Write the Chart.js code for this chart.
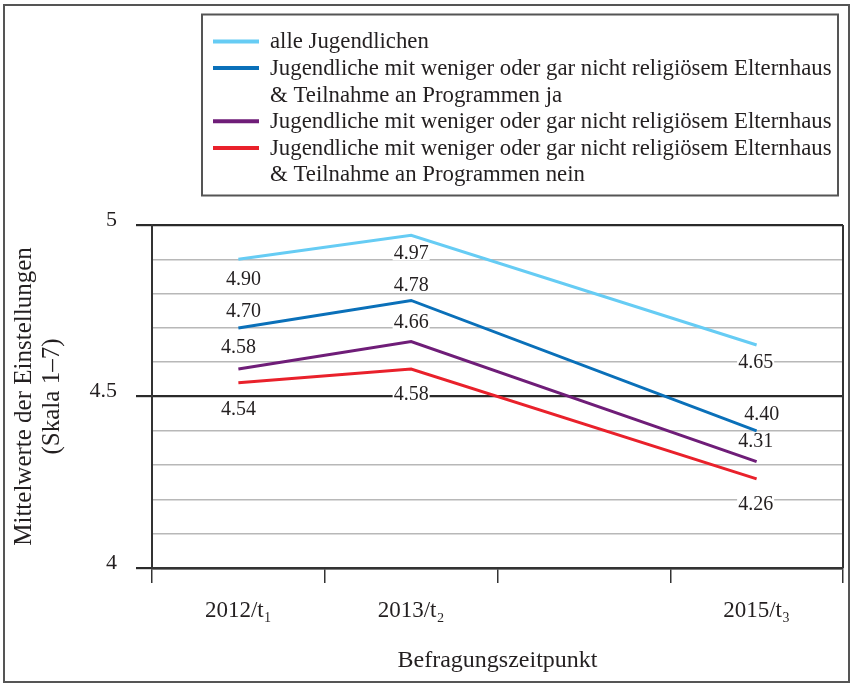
<!DOCTYPE html>
<html>
<head>
<meta charset="utf-8">
<script src="https://cdn.jsdelivr.net/npm/chart.js@4.4.0/dist/chart.umd.min.js"></script>
<style>
  html, body { margin: 0; padding: 0; background: #fff; }
  #wrap { position: relative; width: 852px; height: 684px; }
</style>
</head>
<body>
<div id="wrap"><canvas id="chart" width="852" height="684"></canvas></div>
<script>
// Befragungszeitpunkte (2014 bleibt leer, damit der Abstand stimmt)
const categories = ['2012/t\u2081', '2013/t\u2082', '', '2015/t\u2083'];

const alleJugendlichen   = [4.90, 4.97, null, 4.65];
const programmeJa        = [4.70, 4.78, null, 4.40];
const wenigerReligioes   = [4.58, 4.66, null, 4.31];
const programmeNein      = [4.54, 4.58, null, 4.26];

const seriesLabels = [
  ['alle Jugendlichen'],
  ['Jugendliche mit weniger oder gar nicht religiösem Elternhaus', '& Teilnahme an Programmen ja'],
  ['Jugendliche mit weniger oder gar nicht religiösem Elternhaus'],
  ['Jugendliche mit weniger oder gar nicht religiösem Elternhaus', '& Teilnahme an Programmen nein']
];

const yMajorTicks = [4, 4.5, 5];

const SERIF = "'Liberation Serif', 'DejaVu Serif', serif";
const TEXT = '#231f20';

function isMajor(v) {
  return yMajorTicks.some(m => Math.abs(m - v) < 1e-6);
}

// Werte-Beschriftung mit weissem Hintergrund
const valueLabels = {
  id: 'valueLabels',
  afterDatasetsDraw(chart) {
    const ctx = chart.ctx;
    ctx.save();
    ctx.font = '20px ' + SERIF;
    ctx.textAlign = 'center';
    ctx.textBaseline = 'middle';
    chart.data.datasets.forEach((ds, i) => {
      const meta = chart.getDatasetMeta(i);
      meta.data.forEach((pt, j) => {
        const v = ds.data[j];
        if (v == null) return;
        const txt = v.toFixed(2);
        const x = pt.x + ds.labelDx[j];
        const y = pt.y + ds.labelDy[j];
        const w = ctx.measureText(txt).width;
        ctx.fillStyle = '#fff';
        ctx.fillRect(x - w / 2 - 1, y - 8, w + 2, 16);
        ctx.fillStyle = TEXT;
        ctx.fillText(txt, x, y + 1);
      });
    });
    ctx.restore();
  }
};

// Rahmen rechts, Aussenrahmen und Legendenkasten
const frame = {
  id: 'frame',
  beforeDatasetsDraw(chart) {
    const {ctx, chartArea} = chart;
    ctx.save();
    ctx.strokeStyle = '#333';
    ctx.lineWidth = 2;
    ctx.beginPath();
    ctx.moveTo(chartArea.right, chartArea.top);
    ctx.lineTo(chartArea.right, chartArea.bottom);
    ctx.stroke();
    ctx.restore();
  },
  afterDraw(chart) {
    const ctx = chart.ctx;
    ctx.save();
    ctx.strokeStyle = '#555';
    ctx.lineWidth = 2;
    ctx.strokeRect(4, 5, 845, 677);

    // Legende
    ctx.strokeRect(202, 14.5, 636, 181);
    ctx.font = '22.8px ' + SERIF;
    ctx.textAlign = 'left';
    ctx.textBaseline = 'middle';
    let y = 41.5;
    chart.data.datasets.forEach((ds, i) => {
      ctx.strokeStyle = ds.borderColor;
      ctx.lineWidth = 4;
      ctx.beginPath();
      ctx.moveTo(213, y);
      ctx.lineTo(259, y);
      ctx.stroke();
      ctx.fillStyle = TEXT;
      seriesLabels[i].forEach(line => {
        ctx.fillText(line, 270, y + 1);
        y += 26.6;
      });
    });
    ctx.restore();
  }
};

function lineSet(label, data, color, dx, dy) {
  return {
    label: label,
    data: data,
    borderColor: color,
    backgroundColor: color,
    borderWidth: 3,
    pointRadius: 0,
    spanGaps: true,
    tension: 0,
    labelDx: dx,
    labelDy: dy
  };
}

new Chart(document.getElementById('chart'), {
  type: 'line',
  data: {
    labels: categories,
    datasets: [
      lineSet(seriesLabels[0].join(' '), alleJugendlichen, '#66ccf4', [5, 0, 0, -1], [19, 17, 0, 17]),
      lineSet(seriesLabels[1].join(' '), programmeJa, '#0a70b9', [5, 0, 0, 5], [-17, -16, 0, -17]),
      lineSet(seriesLabels[2].join(' '), wenigerReligioes, '#6f1d78', [0, 0, 0, -1], [-22, -20, 0, -21]),
      lineSet(seriesLabels[3].join(' '), programmeNein, '#e9212b', [0, 0, 0, -1], [26, 25, 0, 25])
    ]
  },
  options: {
    responsive: false,
    animation: false,
    devicePixelRatio: 1,
    layout: { padding: { top: 225, right: 9, bottom: 0, left: 0 } },
    plugins: {
      legend: { display: false },
      tooltip: { enabled: false },
      title: { display: false }
    },
    scales: {
      x: {
        type: 'category',
        offset: true,
        afterFit: s => { s.height = 116; },
        border: { color: '#333', width: 2.5 },
        grid: {
          offset: true,
          drawOnChartArea: false,
          drawTicks: true,
          tickLength: 15,
          color: '#333',
          lineWidth: 1.5
        },
        ticks: {
          padding: 14,
          autoSkip: false,
          maxRotation: 0,
          color: TEXT,
          font: { family: SERIF, size: 23 }
        },
        title: {
          display: true,
          text: 'Befragungszeitpunkt',
          color: TEXT,
          padding: { top: 0, bottom: 9 },
          font: { family: SERIF, size: 24 }
        }
      },
      y: {
        min: 4,
        max: 5,
        afterFit: s => { s.width = 152; },
        border: { color: '#333', width: 2 },
        grid: {
          color: c => isMajor(c.tick.value) ? '#2a2a2a' : '#b8b8b8',
          lineWidth: c => isMajor(c.tick.value) ? 2.2 : 1.5,
          tickColor: c => isMajor(c.tick.value) ? '#2a2a2a' : 'rgba(0,0,0,0)',
          tickLength: 16
        },
        ticks: {
          stepSize: 0.1,
          padding: 19,
          labelOffset: -5,
          color: TEXT,
          font: { family: SERIF, size: 22 },
          callback: v => isMajor(v) ? String(Math.round(v * 10) / 10) : ''
        },
        title: {
          display: true,
          text: ['Mittelwerte der Einstellungen', '(Skala 1\u20137)'],
          color: TEXT,
          padding: { top: 11, bottom: 0 },
          font: { family: SERIF, size: 25, lineHeight: 1.1 }
        }
      }
    }
  },
  plugins: [frame, valueLabels]
});
</script>
</body>
</html>
